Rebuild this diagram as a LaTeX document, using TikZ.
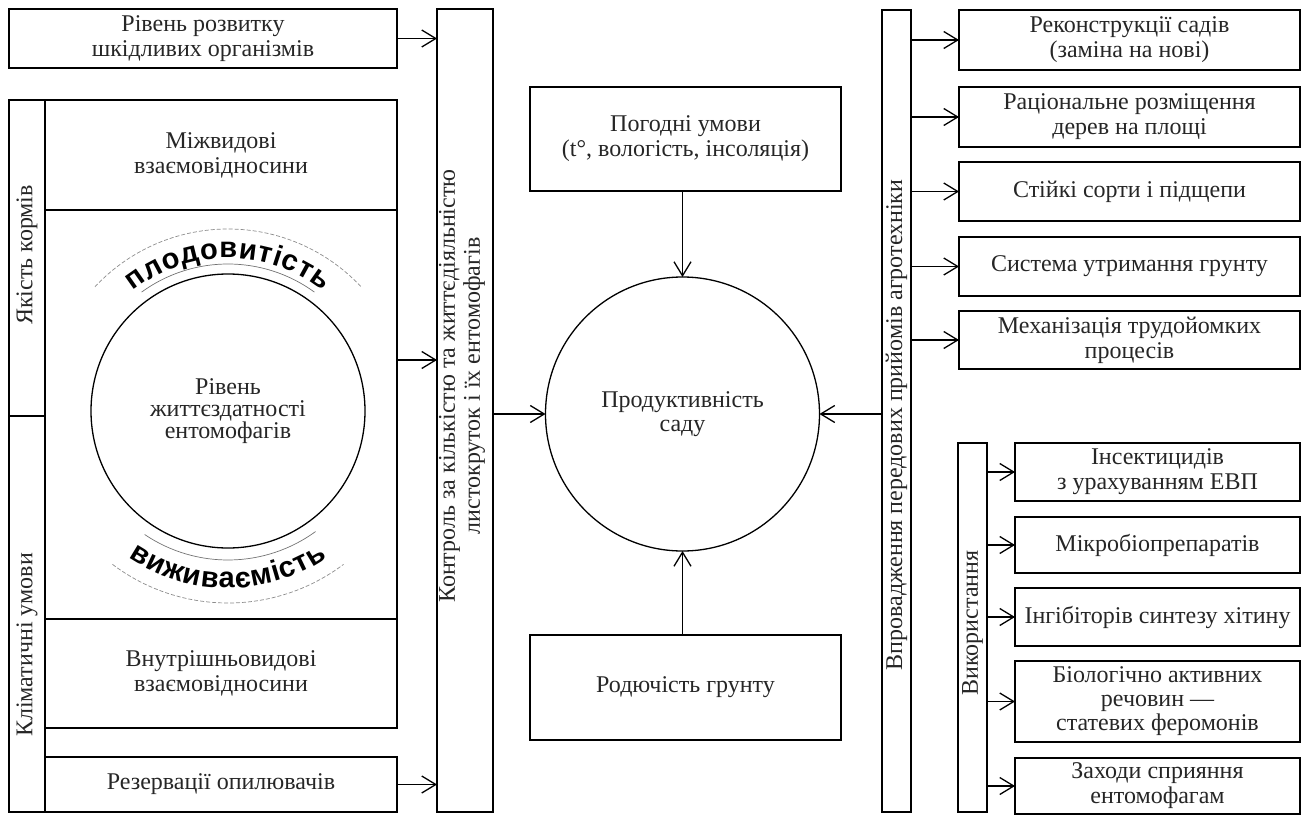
\documentclass[tikz,border=0pt]{standalone}
\usepackage{fontspec}
\setmainfont{Liberation Serif}
\newfontfamily\arcfont{Liberation Sans}
\usetikzlibrary{arrows.meta,decorations.text,calc}
\newcommand\fsz{\fontsize{24}{25}\selectfont}
\newcommand\arcsty{\arcfont\bfseries\fontsize{29}{29}\selectfont}
\tikzset{
  box/.style={draw, line width=1.3pt, inner sep=0pt, outer sep=0pt, align=center, font=\fsz, text=black!85},
  rlabel/.style={rotate=90, align=center, font=\fsz, inner sep=0pt, text=black!85},
  arr/.style={-{Straight Barb[length=14pt,width=17pt]}, line width=1.3pt},
  thinarc/.style={line width=0.7pt, black!55},
  dasharc/.style={line width=0.7pt, black!45, dash pattern=on 4pt off 2pt},
  arctext/.style={decorate, decoration={text effects along path, text={#1}, text align=center,
     text effects/.cd, text along path, characters={font=\arcsty, anchor=base, inner sep=0pt},
     character widths={font=\arcsty, inner xsep=0.4pt}}},
}
\begin{document}
\begin{tikzpicture}[x=1pt,y=1pt]
\useasboundingbox (0,0) rectangle (1302,-816);
% left column
\node[box, minimum width=388, minimum height=59] (top1) at (203,-38.5) {Рівень розвитку\\шкідливих організмів};
\node[box, minimum width=36, minimum height=316] (yak) at (27,-258) {};
\node[box, minimum width=36, minimum height=396] (klim) at (27,-614) {};
\node[rlabel] (yakt) at (27,-255) {Якість кормів};
\node[rlabel] (klimt) at (27,-645) {Кліматичні умови};
\node[box, minimum width=352, minimum height=110] (mizh) at (221,-155) {Міжвидові\\взаємовідносини};
\node[box, minimum width=352, minimum height=409] (mid) at (221,-414.5) {};
\node[box, minimum width=352, minimum height=109] (vnutr) at (221,-673.5) {Внутрішньовидові\\взаємовідносини};
\node[box, minimum width=352, minimum height=55] (rez) at (221,-784.5) {Резервації опилювачів};
\node[box, circle, minimum size=274, font=\fontsize{24}{22}\selectfont] (ent) at (228,-411) {Рівень\\життєздатності\\ентомофагів};
% arcs around ent
\draw[thinarc] ($(ent.center)+(126:147)$) arc[start angle=126, end angle=54, radius=147];
\draw[dasharc] ($(ent.center)+(137:182)$) arc[start angle=137, end angle=43, radius=182];
\path[arctext={плодовитість}]
  ($(ent.center)+(130:153)$) arc[start angle=130, end angle=50, radius=153];
\draw[thinarc] ($(ent.center)+(236:149)$) arc[start angle=236, end angle=306, radius=149];
\draw[dasharc] ($(ent.center)+(233:192)$) arc[start angle=233, end angle=307, radius=192];
\path[arctext={виживаємість}]
  ($(ent.center)+(230:177)$) arc[start angle=230, end angle=310, radius=177];
% control column
\node[box, minimum width=56, minimum height=803] (ctrl) at (465,-410.5) {};
\node[rlabel] (ctrlt) at (462,-386) {Контроль за кількістю та життєдіяльністю\\листокруток і їх ентомофагів};
\coordinate (ym) at (0,-360);
\draw[arr] (top1.east) -- (top1.east -| ctrl.west);
\draw[arr] (mid.east |- ym) -- (ctrl.west |- ym);
\draw[arr] (rez.east) -- (rez.east -| ctrl.west);
% centre
\node[box, circle, minimum size=274, font=\fontsize{24}{24}\selectfont] (prod) at (682.5,-414) {Продуктивність\\саду};
\node[box, minimum width=311, minimum height=104] (pogod) at (685.5,-139) {Погодні умови\\(t°, вологість, інсоляція)};
\node[box, minimum width=311, minimum height=105] (rod) at (685.5,-687.5) {Родючість грунту};
\draw[arr] (pogod.south -| prod.north) -- (prod.north);
\draw[arr] (rod.north -| prod.south) -- (prod.south);
\draw[arr] (ctrl.east |- prod.west) -- (prod.west);
% right column
\node[box, minimum width=29, minimum height=802] (vpr) at (896.5,-411) {};
\node[rlabel] (vprt) at (896.5,-425) {Впровадження передових прийомів агротехніки};
\draw[arr] (vpr.west |- prod.east) -- (prod.east);
\node[box, minimum width=341, minimum height=60] (r1) at (1129.5,-40) {Реконструкції садів\\(заміна на нові)};
\node[box, minimum width=341, minimum height=60] (r2) at (1129.5,-117) {Раціональне розміщення\\дерев на площі};
\node[box, minimum width=341, minimum height=59] (r3) at (1129.5,-191.5) {Стійкі сорти і підщепи};
\node[box, minimum width=341, minimum height=59] (r4) at (1129.5,-266.5) {Система утримання грунту};
\node[box, minimum width=341, minimum height=58] (r5) at (1129.5,-340) {Механізація трудойомких\\процесів};
\foreach \n in {r1,r2,r3,r4,r5} \draw[arr] (vpr.east |- \n.west) -- (\n.west);
\node[box, minimum width=29, minimum height=369] (vyk) at (972.5,-627.5) {};
\node[rlabel] (vykt) at (972.5,-623) {Використання};
\node[box, minimum width=285, minimum height=58] (s1) at (1157.5,-472) {Інсектицидів\\з урахуванням ЕВП};
\node[box, minimum width=285, minimum height=56] (s2) at (1157.5,-545) {Мікробіопрепаратів};
\node[box, minimum width=285, minimum height=58] (s3) at (1157.5,-617) {Інгібіторів синтезу хітину};
\node[box, minimum width=285, minimum height=81, font=\fontsize{24}{24}\selectfont] (s4) at (1157.5,-701.5) {Біологічно активних\\речовин —\\статевих феромонів};
\node[box, minimum width=285, minimum height=56] (s5) at (1157.5,-786) {Заходи сприяння\\ентомофагам};
\foreach \n in {s1,s2,s3,s4,s5} \draw[arr] (vyk.east |- \n.west) -- (\n.west);
\end{tikzpicture}
\end{document}
